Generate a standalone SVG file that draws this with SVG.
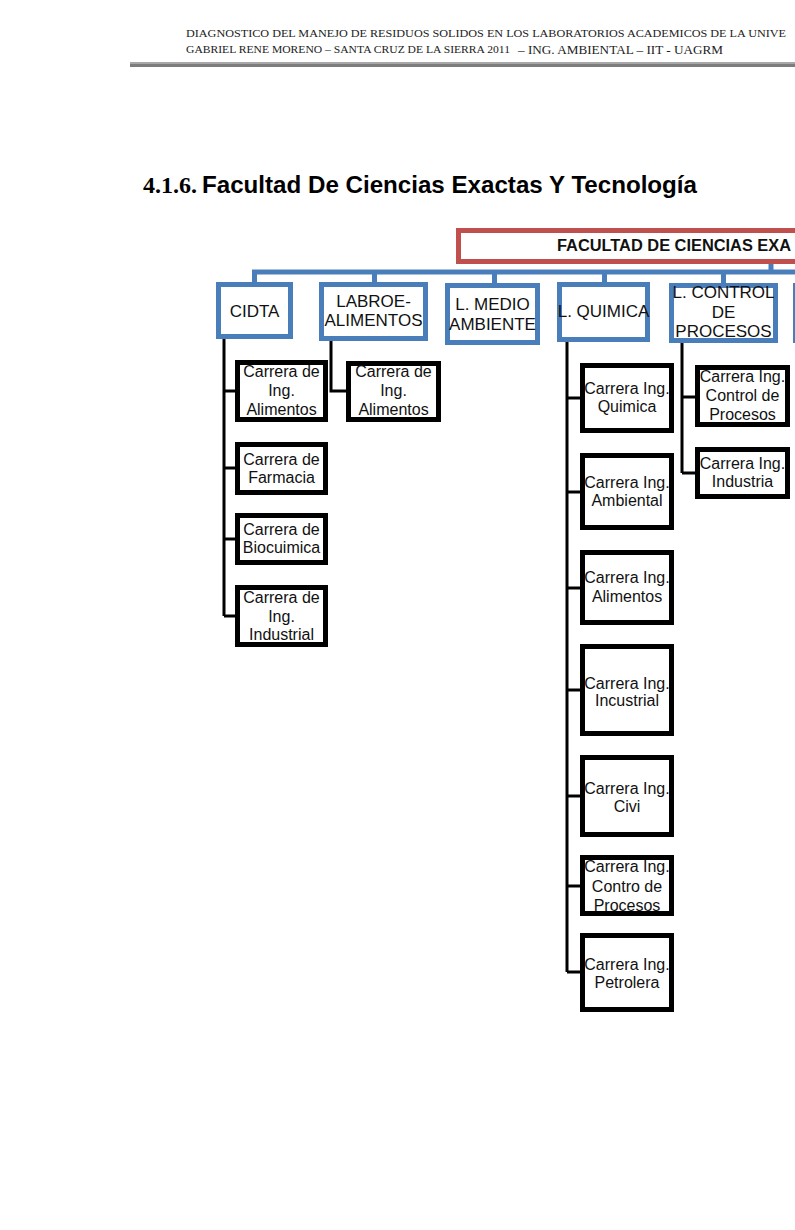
<svg xmlns="http://www.w3.org/2000/svg" width="795" height="1230" viewBox="0 0 795 1230">
<style>
.hdr{font-family:"Liberation Serif","Times New Roman",serif;fill:#222}
.blue{fill:#fff;stroke:#4a7ebb;stroke-width:5}
.red{fill:#fff;stroke:#c0504d;stroke-width:5}
.blk{fill:#fff;stroke:#000;stroke-width:5}
.bl{fill:none;stroke:#4a7ebb;stroke-width:5}
.kl{fill:none;stroke:#000;stroke-width:3}
.bt{font-family:"Liberation Sans",Arial,sans-serif;font-size:17px;fill:#111;text-anchor:middle}
.ct{font-family:"Liberation Sans",Arial,sans-serif;font-size:16px;fill:#111;text-anchor:middle}
</style>
<rect width="795" height="1230" fill="#fff"/>
<g id="header">
<text class="hdr" x="186" y="37" font-size="11.2" textLength="600" lengthAdjust="spacingAndGlyphs">DIAGNOSTICO DEL MANEJO DE RESIDUOS SOLIDOS EN LOS LABORATORIOS ACADEMICOS DE LA UNIVE</text>
<text class="hdr" x="186" y="53" font-size="10" textLength="324" lengthAdjust="spacingAndGlyphs">GABRIEL RENE MORENO – SANTA CRUZ DE LA SIERRA 2011</text>
<text class="hdr" x="518" y="54" font-size="11.5" textLength="205" lengthAdjust="spacingAndGlyphs">– ING. AMBIENTAL – IIT -  UAGRM</text>
<line x1="130" y1="63" x2="795" y2="63" stroke="#a8a8a8" stroke-width="2"/>
<line x1="130" y1="65.5" x2="795" y2="65.5" stroke="#7d7d7d" stroke-width="3"/>
</g>
<g id="title">
<text x="143" y="193" font-family="Liberation Serif,'Times New Roman',serif" font-weight="bold" font-size="24" textLength="54" lengthAdjust="spacingAndGlyphs">4.1.6.</text>
<text x="202" y="193" font-family="Liberation Sans,Arial,sans-serif" font-weight="bold" font-size="23" textLength="495" lengthAdjust="spacingAndGlyphs">Facultad De Ciencias Exactas Y Tecnología</text>
</g>
<g id="connectors">
<path class="bl" d="M254.5 283 V272 H800"/>
<path class="bl" d="M374.5 272 V283 M494.5 272 V284 M604.5 272 V283 M723.5 272 V284 M771 262 V272"/>
<path class="kl" d="M224 339 V616 M224 391 H236 M224 468 H236 M224 539 H236 M224 616 H236"/>
<path class="kl" d="M331 340 V391 H347"/>
<path class="kl" d="M567 341 V972 M567 398 H581 M567 492 H581 M567 588 H581 M567 690 H581 M567 796 H581 M567 886 H581 M567 972 H581"/>
<path class="kl" d="M682 342 V473 M682 397 H696 M682 473 H696"/>
</g>
<g id="node-facultad">
<rect class="red" x="458.5" y="230.5" width="450" height="31"/>
<text x="557" y="251" font-family="Liberation Sans,Arial,sans-serif" font-weight="bold" font-size="16" fill="#111" textLength="234" lengthAdjust="spacingAndGlyphs">FACULTAD DE CIENCIAS EXA</text>
</g>
<g id="node-cidta">
<rect class="blue" x="218.5" y="284.5" width="72" height="52"/>
<text class="bt" x="254.5" y="317">CIDTA</text>
</g>
<g id="node-labroe">
<rect class="blue" x="321.5" y="284.5" width="104" height="54"/>
<text class="bt" x="373.5" y="307">LABROE-</text>
<text class="bt" x="373.5" y="326">ALIMENTOS</text>
</g>
<g id="node-medio">
<rect class="blue" x="447.5" y="285.5" width="90" height="57"/>
<text class="bt" x="492.5" y="310">L. MEDIO</text>
<text class="bt" x="492.5" y="330">AMBIENTE</text>
</g>
<g id="node-quimica">
<rect class="blue" x="559.5" y="284.5" width="88" height="55"/>
<text class="bt" x="603.5" y="317">L. QUIMICA</text>
</g>
<g id="node-control">
<rect class="blue" x="671.5" y="285.5" width="104" height="55"/>
<text class="bt" x="723.5" y="298">L. CONTROL</text>
<text class="bt" x="723.5" y="318">DE</text>
<text class="bt" x="723.5" y="337">PROCESOS</text>
</g>
<g id="node-right">
<rect class="blue" x="795.5" y="285.5" width="100" height="55"/>
</g>
<g id="node-cidta-alimentos">
<rect class="blk" x="237.5" y="362.5" width="88" height="57"/>
<text class="ct" x="281.5" y="377">Carrera de</text>
<text class="ct" x="281.5" y="396">Ing.</text>
<text class="ct" x="281.5" y="415">Alimentos</text>
</g>
<g id="node-cidta-farmacia">
<rect class="blk" x="237.5" y="444.5" width="88" height="48"/>
<text class="ct" x="281.5" y="465">Carrera de</text>
<text class="ct" x="281.5" y="483">Farmacia</text>
</g>
<g id="node-cidta-bioquimica">
<rect class="blk" x="237.5" y="515.5" width="88" height="47"/>
<text class="ct" x="281.5" y="535">Carrera de</text>
<text class="ct" x="281.5" y="553">Biocuimica</text>
</g>
<g id="node-cidta-industrial">
<rect class="blk" x="237.5" y="587.5" width="88" height="57"/>
<text class="ct" x="281.5" y="603">Carrera de</text>
<text class="ct" x="281.5" y="622">Ing.</text>
<text class="ct" x="281.5" y="640">Industrial</text>
</g>
<g id="node-labroe-alimentos">
<rect class="blk" x="348.5" y="363.5" width="90" height="56"/>
<text class="ct" x="393.5" y="377">Carrera de</text>
<text class="ct" x="393.5" y="396">Ing.</text>
<text class="ct" x="393.5" y="415">Alimentos</text>
</g>
<g id="node-q-quimica">
<rect class="blk" x="582.5" y="365.5" width="89" height="65"/>
<text class="ct" x="627" y="394">Carrera Ing.</text>
<text class="ct" x="627" y="412">Quimica</text>
</g>
<g id="node-q-ambiental">
<rect class="blk" x="582.5" y="455.5" width="89" height="72"/>
<text class="ct" x="627" y="488">Carrera Ing.</text>
<text class="ct" x="627" y="506">Ambiental</text>
</g>
<g id="node-q-alimentos">
<rect class="blk" x="582.5" y="552.5" width="89" height="70"/>
<text class="ct" x="627" y="583">Carrera Ing.</text>
<text class="ct" x="627" y="602">Alimentos</text>
</g>
<g id="node-q-industrial">
<rect class="blk" x="582.5" y="646.5" width="89" height="87"/>
<text class="ct" x="627" y="689">Carrera Ing.</text>
<text class="ct" x="627" y="706">Incustrial</text>
</g>
<g id="node-q-civil">
<rect class="blk" x="582.5" y="757.5" width="89" height="77"/>
<text class="ct" x="627" y="794">Carrera Ing.</text>
<text class="ct" x="627" y="812">Civi</text>
</g>
<g id="node-q-control">
<rect class="blk" x="582.5" y="857.5" width="89" height="56"/>
<text class="ct" x="627" y="872">Carrera Ing.</text>
<text class="ct" x="627" y="892">Contro de</text>
<text class="ct" x="627" y="911">Procesos</text>
</g>
<g id="node-q-petrolera">
<rect class="blk" x="582.5" y="935.5" width="89" height="74"/>
<text class="ct" x="627" y="970">Carrera Ing.</text>
<text class="ct" x="627" y="988">Petrolera</text>
</g>
<g id="node-c-control">
<rect class="blk" x="697.5" y="367.5" width="90" height="57"/>
<text class="ct" x="742.5" y="382">Carrera Ing.</text>
<text class="ct" x="742.5" y="401">Control de</text>
<text class="ct" x="742.5" y="420">Procesos</text>
</g>
<g id="node-c-industria">
<rect class="blk" x="697.5" y="449.5" width="90" height="47"/>
<text class="ct" x="742.5" y="469">Carrera Ing.</text>
<text class="ct" x="742.5" y="487">Industria</text>
</g>
</svg>
